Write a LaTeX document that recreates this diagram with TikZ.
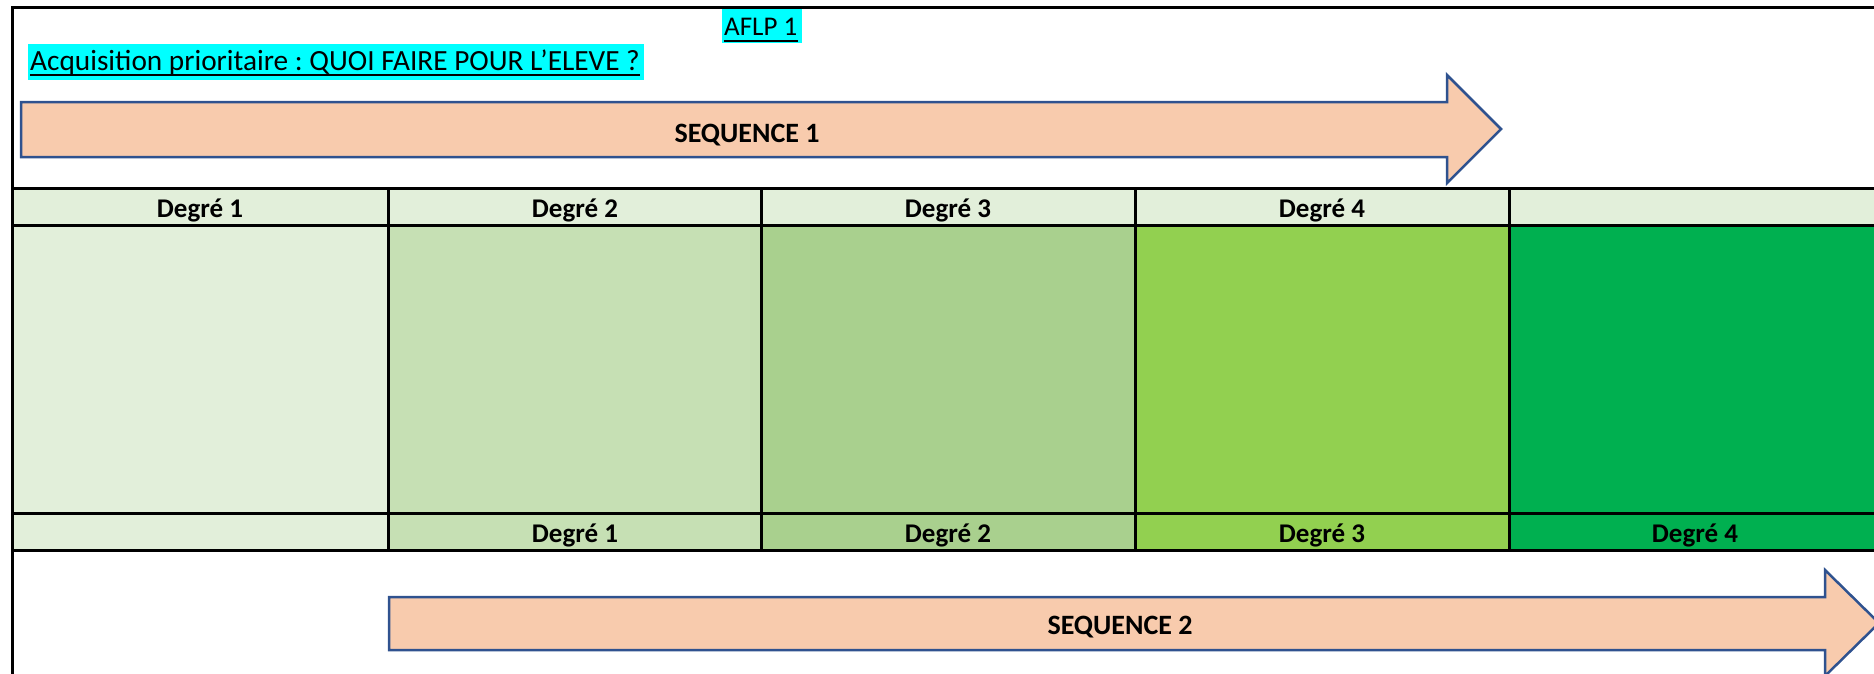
\documentclass[tikz,border=0pt]{standalone}
\usepackage{fontspec}
\setmainfont{Carlito}
\frenchspacing
\definecolor{hdr}{HTML}{E2EFDA}
\definecolor{gA}{HTML}{E2EFDA}
\definecolor{gB}{HTML}{C6E0B4}
\definecolor{gC}{HTML}{A9D08E}
\definecolor{gD}{HTML}{92D050}
\definecolor{gE}{HTML}{00B050}
\definecolor{arrfill}{HTML}{F8CBAD}
\definecolor{arrline}{HTML}{2F528F}
\definecolor{hl}{HTML}{00FFFF}
\tikzset{
  grid/.style={line width=3pt, black},
  bigarrow/.style={fill=arrfill, draw=arrline, line width=2.5pt, line join=miter},
  boldlbl/.style={font=\fontsize{27}{32}\selectfont\bfseries, inner sep=0pt, anchor=base},
  titlelbl/.style={font=\fontsize{27}{32}\selectfont, inner sep=0pt, anchor=base west},
}
\begin{document}
\begin{tikzpicture}[x=1pt,y=-1pt]
\useasboundingbox (0,0) rectangle (1874,673);
\clip (0,0) rectangle (1874,673);
% title highlights
\fill[hl] (722,8) rectangle (802,43);
\fill[hl] (28,44) rectangle (644,80);
\node[titlelbl] (aflp) at (724,35) {AFLP 1};
\draw[line width=2pt] ([yshift=-6pt]aflp.base west) -- ([yshift=-6pt]aflp.base east);
\node[titlelbl, font=\fontsize{29.3}{34}\selectfont] (acq) at (30,70) {Acquisition prioritaire : QUOI FAIRE POUR L’ELEVE ?};
\draw[line width=2pt] ([yshift=-5pt]acq.base west) -- ([yshift=-5pt]acq.base east);
% arrow 1
\draw[bigarrow] (21,102) -- (1447,102) -- (1447,75) -- (1501,129) -- (1447,183) -- (1447,157) -- (21,157) -- cycle;
\node[boldlbl, font=\fontsize{28}{33}\selectfont\bfseries] (seq1) at (747,142) {SEQUENCE 1};
% table fills
\fill[hdr] (12,188) rectangle (1882,225);
\fill[gA] (12,225) rectangle (388,550);
\fill[gB] (388,225) rectangle (761,550);
\fill[gC] (761,225) rectangle (1135,550);
\fill[gD] (1135,225) rectangle (1509,550);
\fill[gE] (1509,225) rectangle (1882,550);
% table lines
\foreach \yy in {188,225,513,550} \draw[grid] (12,\yy) -- (1882,\yy);
\foreach \xx in {388,761,1135,1509} \draw[grid] (\xx,188) -- (\xx,550);
% outer frame
\draw[grid] (12,680) -- (12,7) -- (1882,7);
% header labels
\node[boldlbl] (h1) at (200,217) {Degré 1};
\node[boldlbl] (h2) at (575,217) {Degré 2};
\node[boldlbl] (h3) at (948,217) {Degré 3};
\node[boldlbl] (h4) at (1322,217) {Degré 4};
% bottom labels
\node[boldlbl] (b1) at (575,542) {Degré 1};
\node[boldlbl] (b2) at (948,542) {Degré 2};
\node[boldlbl] (b3) at (1322,542) {Degré 3};
\node[boldlbl] (b4) at (1695,542) {Degré 4};
% arrow 2
\draw[bigarrow] (389,597) -- (1825,597) -- (1825,570) -- (1879,623) -- (1825,676) -- (1825,650) -- (389,650) -- cycle;
\node[boldlbl, font=\fontsize{28}{33}\selectfont\bfseries] (seq2) at (1120,634) {SEQUENCE 2};
\end{tikzpicture}
\end{document}
